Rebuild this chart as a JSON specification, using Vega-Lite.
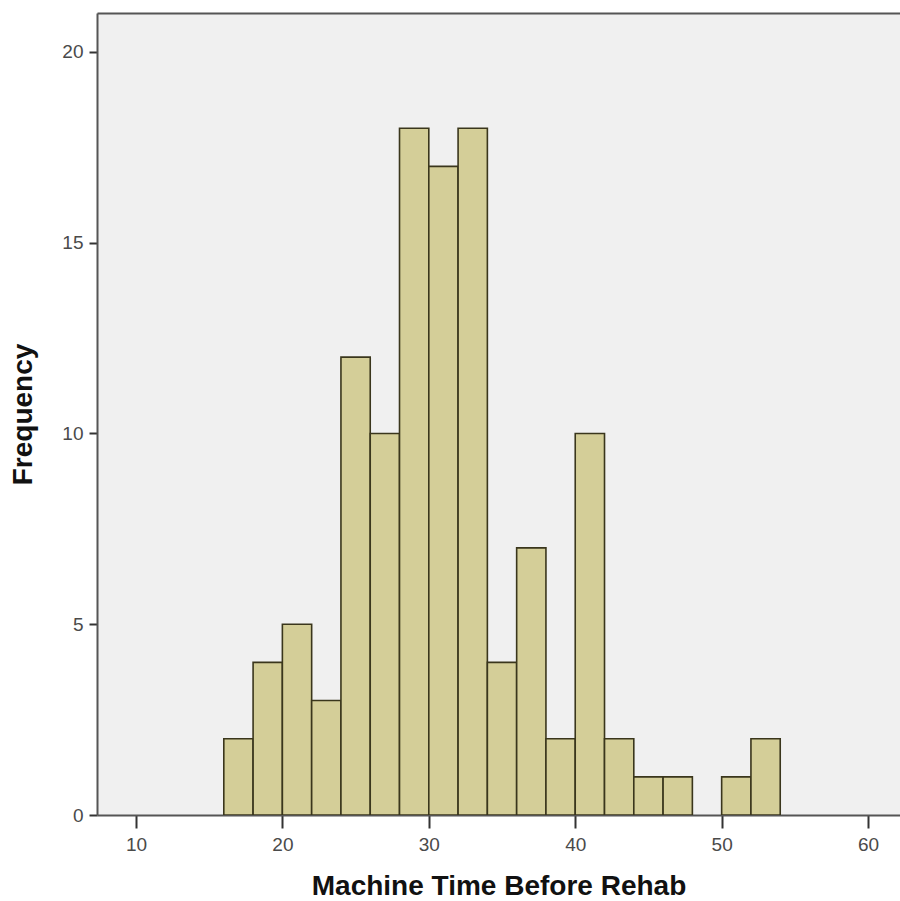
{
  "$schema": "https://vega.github.io/schema/vega-lite/v6.json",
  "autosize": "none",
  "width": 803,
  "height": 802,
  "padding": {"left": 97, "top": 13, "right": 0, "bottom": 86},
  "background": "#ffffff",
  "view": {"fill": "#F0F0F0", "stroke": null},
  "data": {
    "values": [
      {"bin_start": 16, "bin_end": 18, "count": 2},
      {"bin_start": 18, "bin_end": 20, "count": 4},
      {"bin_start": 20, "bin_end": 22, "count": 5},
      {"bin_start": 22, "bin_end": 24, "count": 3},
      {"bin_start": 24, "bin_end": 26, "count": 12},
      {"bin_start": 26, "bin_end": 28, "count": 10},
      {"bin_start": 28, "bin_end": 30, "count": 18},
      {"bin_start": 30, "bin_end": 32, "count": 17},
      {"bin_start": 32, "bin_end": 34, "count": 18},
      {"bin_start": 34, "bin_end": 36, "count": 4},
      {"bin_start": 36, "bin_end": 38, "count": 7},
      {"bin_start": 38, "bin_end": 40, "count": 2},
      {"bin_start": 40, "bin_end": 42, "count": 10},
      {"bin_start": 42, "bin_end": 44, "count": 2},
      {"bin_start": 44, "bin_end": 46, "count": 1},
      {"bin_start": 46, "bin_end": 48, "count": 1},
      {"bin_start": 50, "bin_end": 52, "count": 1},
      {"bin_start": 52, "bin_end": 54, "count": 2}
    ]
  },
  "config": {
    "axis": {
      "grid": false,
      "domainColor": "#555555",
      "domainWidth": 2,
      "tickColor": "#333333",
      "tickWidth": 2,
      "labelFont": "Liberation Sans",
      "labelFontSize": 19,
      "labelColor": "#4a4a4a",
      "titleFont": "Liberation Sans",
      "titleFontWeight": "bold",
      "titleFontSize": 28,
      "titleColor": "#111111"
    }
  },
  "layer": [
    {
      "mark": {"type": "bar", "fill": "#D4CE98", "stroke": "#3a361c", "strokeWidth": 1.6, "clip": true},
      "encoding": {
        "x": {
          "field": "bin_start",
          "type": "quantitative",
          "scale": {"domain": [7.34, 62.18], "nice": false, "zero": false},
          "axis": {
            "orient": "bottom",
            "values": [10, 20, 30, 40, 50, 60],
            "tickSize": 13,
            "labelPadding": 7,
            "title": "Machine Time Before Rehab",
            "titlePadding": 18
          }
        },
        "x2": {"field": "bin_end"},
        "y": {
          "field": "count",
          "type": "quantitative",
          "scale": {"domain": [0, 21.02], "nice": false},
          "axis": {
            "values": [0, 5, 10, 15, 20],
            "tickSize": 8,
            "labelPadding": 6,
            "title": "Frequency",
            "titlePadding": 24
          }
        },
        "y2": {"datum": 0}
      }
    },
    {
      "mark": {"type": "bar", "opacity": 0},
      "encoding": {
        "x": {
          "field": "bin_start",
          "type": "quantitative",
          "axis": {"orient": "top", "labels": false, "ticks": false, "title": null, "domain": true}
        },
        "x2": {"field": "bin_end"},
        "y": {"field": "count", "type": "quantitative"},
        "y2": {"datum": 0}
      }
    }
  ]
}
